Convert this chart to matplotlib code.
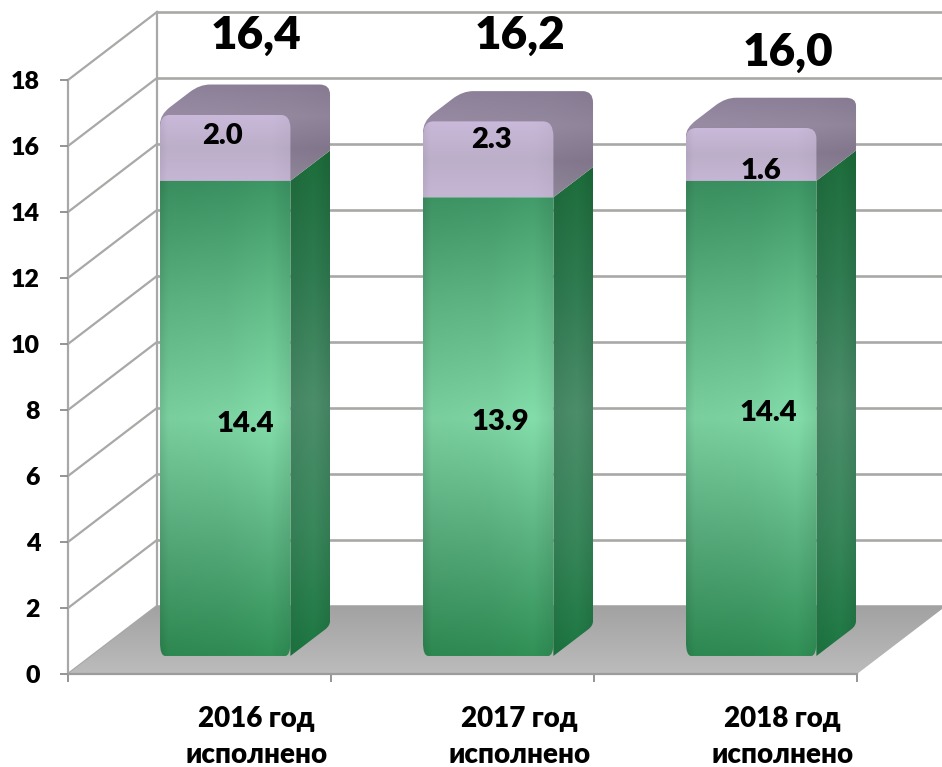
import numpy as np
import matplotlib
matplotlib.use('Agg')
import matplotlib.pyplot as plt
from matplotlib.colors import LinearSegmentedColormap
from matplotlib.patches import PathPatch
from matplotlib.path import Path

plt.rcParams['font.family'] = ['Lato', 'Open Sans', 'DejaVu Sans']
plt.rcParams['font.weight'] = 800

# data
categories = ['2016 год\nисполнено', '2017 год\nисполнено', '2018 год\nисполнено']
lower_values = [14.4, 13.9, 14.4]
upper_values = [2.0, 2.3, 1.6]
total_labels = ['16,4', '16,2', '16,0']
y_ticks = [0, 2, 4, 6, 8, 10, 12, 14, 16, 18]

# hand placed label nudges in pixels, from the centre of each segment
lower_nudge = [(20, -6), (12, 5), (17, 5)]
upper_nudge = [(-3, 12), (3, 19), (10, -17)]
total_pos = [(4, 24), (5, 24), (10, 7)]

GRID = '#a8a8a6'
# how far the depth of the box moves a point, in data units
DX = 89 / 263
DY = 68 / 33
BAR_W = 0.496
BAR_D0 = 0.265
BAR_D1 = 0.71
BAR_X0 = 0.26


def proj(x, y, d):
    return x + d * DX, y + d * DY


def rounded(points, r):
    # closed path through points, corners cut by r (fraction of the edge)
    n = len(points)
    verts, codes = [], []
    for i in range(n):
        p = np.array(points[i])
        a = np.array(points[i - 1])
        b = np.array(points[(i + 1) % n])
        ri = r[i]
        start = p + (a - p) * ri[0]
        end = p + (b - p) * ri[1]
        verts += [start, p, end]
        codes += [Path.MOVETO if i == 0 else Path.LINETO, Path.CURVE3, Path.CURVE3]
    verts.append(verts[0])
    codes.append(Path.CLOSEPOLY)
    return Path(verts, codes)


def shaded(ax, path, colors_v, extent, horiz=None, zorder=3):
    # vertical gradient image clipped to the face
    cm = LinearSegmentedColormap.from_list('f', colors_v)
    col = cm(np.linspace(0, 1, 256))[:, :3]
    img = np.repeat(col[:, None, :], 64, axis=1)
    if horiz is not None:
        shade = np.interp(np.linspace(0, 1, 64), horiz[0], horiz[1])
        img = np.clip(img * shade[None, :, None], 0, 1)
    im = ax.imshow(img, extent=extent, origin='upper', aspect='auto', zorder=zorder,
                   interpolation='bilinear')
    im.set_clip_path(PathPatch(path, transform=ax.transData))
    im.set_clip_box(fig.bbox)


fig = plt.figure(figsize=(9.42, 7.67), dpi=100)
ax = fig.add_axes([68 / 942, (767 - 674) / 767, 789 / 942, 594 / 767])
ax.patch.set_alpha(0)
for s in ax.spines.values():
    s.set_visible(False)

# walls
for v in y_ticks:
    bx, by = proj(0, v, 1)
    ax.plot([0, bx], [v, by], color=GRID, lw=1.6, clip_on=False, zorder=1)
    ax.plot([bx, 3.6], [by, by], color=GRID, lw=1.9, clip_on=False, zorder=1)
bx, by = proj(0, 0, 1)
tx, ty = proj(0, 18, 1)
ax.plot([bx, tx], [by, ty], color=GRID, lw=1.6, clip_on=False, zorder=1)
ax.plot([0, 0], [0, 18], color=GRID, lw=1.6, clip_on=False, zorder=1)

# floor
floor = Path([(0, 0), (3, 0), proj(3, 0, 1), proj(0, 0, 1), (0, 0)],
             [Path.MOVETO, Path.LINETO, Path.LINETO, Path.LINETO, Path.CLOSEPOLY])
shaded(ax, floor, ['#a2a2a2', '#bcbcbc'], (0, 3 + DX, 0, DY), zorder=2)
ax.plot([0, 3], [0, 0], color='#9c9c9c', lw=1.6, clip_on=False, zorder=2)

for i in range(3):
    x0 = i + BAR_X0
    x1 = x0 + BAR_W
    lo = lower_values[i]
    hi = lo + upper_values[i]
    fx0, fb = proj(x0, 0, BAR_D0)
    fx1, _ = proj(x1, 0, BAR_D0)
    sx1, _ = proj(x1, 0, BAR_D1)
    dy = (BAR_D1 - BAR_D0) * DY
    dx = (BAR_D1 - BAR_D0) * DX
    z = 3 + i

    # green side
    side = rounded([(fx1, fb), (sx1, fb + dy), (sx1, fb + dy + lo), (fx1, fb + lo)],
                   [(0.0, 0.25), (0.12, 0.01), (0.0, 0.0), (0.0, 0.0)])
    shaded(ax, side, ['#1c6b3a', '#2f7a50', '#4a8b68', '#38855a', '#1c7540'],
           (fx1, sx1, fb, fb + dy + lo), horiz=([0, 0.6, 1], [0.95, 1.02, 0.93]), zorder=z)

    # green front
    fg = rounded([(fx0, fb), (fx1, fb), (fx1, fb + lo), (fx0, fb + lo)],
                 [(0.03, 0.04), (0.04, 0.03), (0, 0), (0, 0)])
    shaded(ax, fg, ['#3a9060', '#5db482', '#7dd3a2', '#57ab7b', '#2e8a52'],
           (fx0, fx1, fb, fb + 14.4), horiz=([0, 0.06, 0.5, 0.85, 1], [0.9, 0.98, 1.0, 1.05, 0.97]), zorder=z)

    # purple cap, top and side in one outline
    cap = rounded([(fx0, fb + lo), (fx1, fb + lo), (sx1, fb + lo + dy), (sx1, fb + hi + dy),
                   (fx0 + dx, fb + hi + dy), (fx0, fb + hi)],
                  [(0, 0), (0, 0), (0, 0), (0.15, 0.08), (0.08, 0.25), (0.25, 0.15)])
    shaded(ax, cap, ['#8a7e96', '#94889f', '#85798f', '#8f8799'],
           (fx0, sx1, fb + lo, fb + hi + dy), horiz=([0, 0.75, 1], [1.03, 1.0, 0.97]), zorder=z)

    # purple front
    fp = rounded([(fx0, fb + lo), (fx1, fb + lo), (fx1, fb + hi), (fx0, fb + hi)],
                 [(0.02, 0.0), (0.0, 0.08), (0.2, 0.08), (0.08, 0.2)])
    shaded(ax, fp, ['#cab9da', '#bcafc9', '#c6b6d5'], (fx0, fx1, fb + lo, fb + hi),
           horiz=([0, 0.05, 0.85, 1], [0.95, 1.0, 1.0, 0.97]), zorder=z)

    cx = (fx0 + fx1) / 2
    ax.annotate(f'{lo:.1f}', (cx, fb + lo / 2), xytext=lower_nudge[i], textcoords='offset pixels',
                ha='center', va='center', fontsize=21, zorder=10, annotation_clip=False)
    ax.annotate(f'{upper_values[i]:.1f}', (cx, fb + lo + upper_values[i] / 2), xytext=upper_nudge[i],
                textcoords='offset pixels', ha='center', va='center', fontsize=21, zorder=10,
                annotation_clip=False)
    ax.annotate(total_labels[i], (i + 0.7, 18), xytext=total_pos[i], textcoords='offset pixels',
                ha='center', va='bottom', fontsize=33, zorder=10, annotation_clip=False)
    ax.annotate(categories[i], (i + 0.5, 0), xytext=(57, -32), textcoords='offset pixels',
                ha='center', va='top', fontsize=20, linespacing=1.47, annotation_clip=False)

ax.set_xlim(0, 3)
ax.set_ylim(0, 18)
ax.set_xticks([0, 1, 2, 3])
ax.set_xticklabels([])
ax.set_yticks(y_ticks)
ax.tick_params(axis='both', color='#8c8c8c', width=1.3, length=6)
ax.tick_params(axis='y', labelsize=18, pad=14)

plt.savefig('out.png', dpi=100)
